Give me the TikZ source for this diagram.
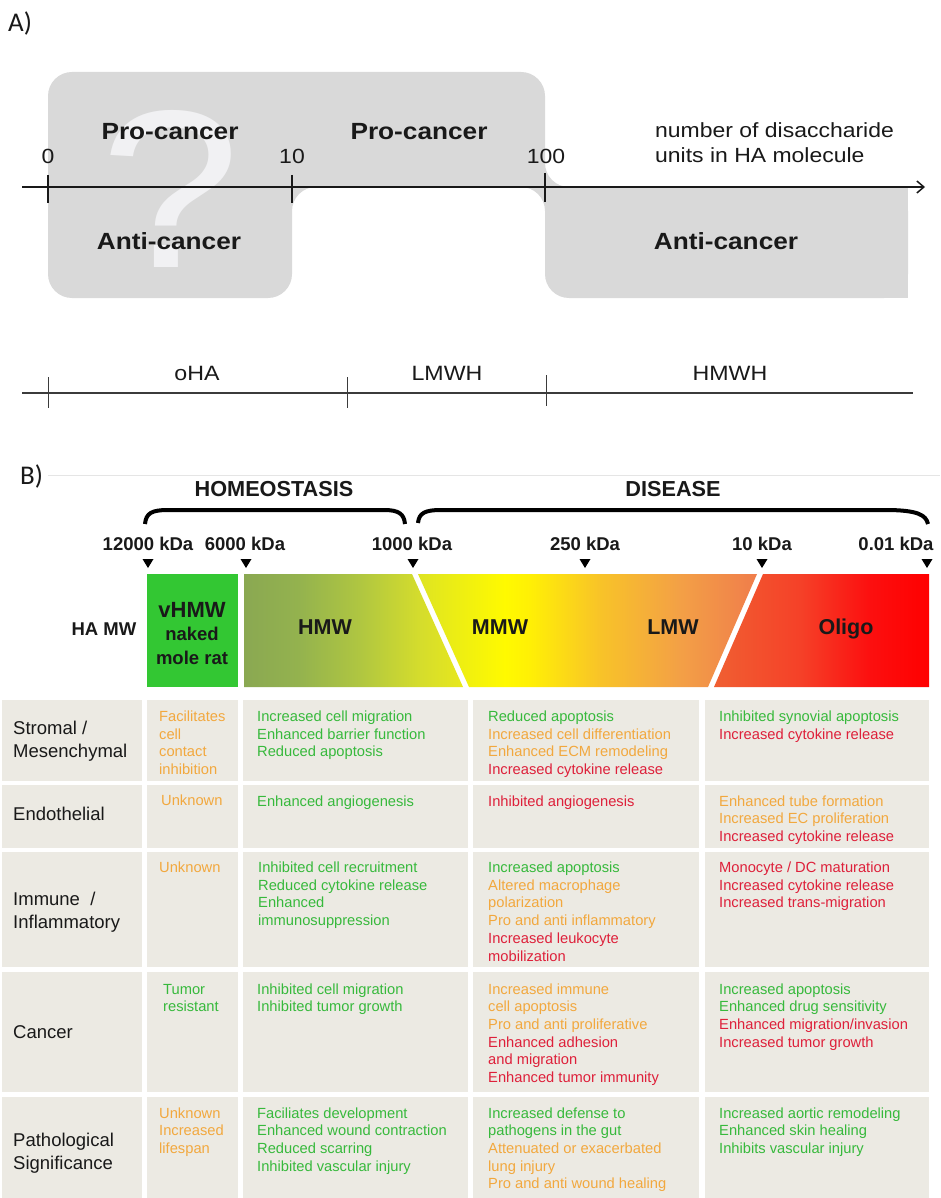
\documentclass[tikz,border=0pt]{standalone}
\usepackage{fontspec}
\setmainfont{Liberation Sans}
\newfontfamily\Afont[FakeStretch=1.12]{Liberation Sans}
\newfontfamily\labfont{Carlito}
\usetikzlibrary{arrows.meta}
\definecolor{shapegray}{RGB}{217,217,217}
\definecolor{qmark}{RGB}{241,241,243}
\definecolor{cellbg}{RGB}{236,234,227}
\definecolor{tg}{RGB}{55,185,60}
\definecolor{tor}{RGB}{242,168,62}
\definecolor{trd}{RGB}{222,32,58}
\definecolor{vgreen}{RGB}{51,199,51}
\definecolor{txt}{RGB}{25,25,25}
\pgfdeclarehorizontalshading{hmwshade}{100bp}{rgb(0bp)=(.541,.659,.322); rgb(25bp)=(.541,.659,.322); rgb(37.7bp)=(.58,.70,.306); rgb(51.2bp)=(.686,.776,.255); rgb(64.8bp)=(.831,.863,.176); rgb(75bp)=(.91,.91,.11); rgb(100bp)=(.91,.91,.11)}
\pgfdeclarehorizontalshading{mmwshade}{100bp}{rgb(0bp)=(.87,.894,.137); rgb(25bp)=(.87,.894,.137); rgb(37.83bp)=(1,.98,0); rgb(41.52bp)=(1,.94,.02); rgb(51.84bp)=(.973,.765,.157); rgb(63.64bp)=(.953,.627,.275); rgb(75bp)=(.941,.49,.294); rgb(100bp)=(.941,.49,.294)}
\pgfdeclarehorizontalshading{olishade}{100bp}{rgb(0bp)=(.941,.373,.196); rgb(25bp)=(.941,.373,.196); rgb(45bp)=(.961,.255,.157); rgb(61.28bp)=(.988,.059,.059); rgb(75bp)=(1,0,0); rgb(100bp)=(1,0,0)}
\newcommand{\tl}[1]{\begin{tabular}[t]{@{}l@{}}#1\end{tabular}}
\newcommand{\cG}[1]{\textcolor{tg}{#1}}
\newcommand{\cO}[1]{\textcolor{tor}{#1}}
\newcommand{\cR}[1]{\textcolor{trd}{#1}}
\begin{document}
\begin{tikzpicture}[x=1pt,y=1pt,
  atxt/.style={anchor=base, inner sep=0pt, text=txt, font=\Afont\fontsize{20.5}{25}\selectfont},
  abold/.style={anchor=base, inner sep=0pt, text=txt, font=\Afont\bfseries\fontsize{23.4}{26}\selectfont},
  kda/.style={anchor=base, inner sep=0pt, text=txt, font=\bfseries\fontsize{18.5}{20}\selectfont},
  head/.style={anchor=base, inner sep=0pt, text=txt, font=\bfseries\fontsize{21.7}{24}\selectfont},
  barlab/.style={anchor=base, inner sep=0pt, text=txt, font=\bfseries\fontsize{21.5}{24}\selectfont},
  rowlab/.style={anchor=base west, inner sep=0pt, text=txt, font=\fontsize{18.5}{23.2}\selectfont},
  cell/.style={anchor=base west, inner sep=0pt, font=\fontsize{14.7}{17.7}\selectfont},
  cellbox/.style={fill=cellbg},
  tick/.style={line width=1.3pt, txt}]
\useasboundingbox (0,0) rectangle (940,-1198);
\fill[white] (0,0) rectangle (940,-1198);

% ---------------- Part A ----------------
\node[anchor=base west, inner sep=0pt, text=txt, font=\labfont\fontsize{27}{27}\selectfont] (labA) at (8,-32) {A)};

\fill[shapegray, rounded corners=24pt] (48,-72) -- (545,-72) -- (545,-187) -- (908,-187) -- (908,-298) -- (545,-298) -- (545,-187) -- (292,-187) -- (292,-298) -- (48,-298) -- cycle;
\fill[shapegray] (870,-187) rectangle (908,-298);

\node[anchor=base, inner sep=0pt, text=qmark, font=\Afont\fontsize{225}{225}\selectfont] (qm) at (171,-267) {?};

\coordinate (axL) at (22,-187);
\coordinate (axR) at (925,-187);
\draw[line width=1.5pt, txt, -{Straight Barb[length=7pt,width=12pt]}] (axL) -- (axR);
\coordinate (t0a) at (48,-175);  \coordinate (t0b) at (48,-203);
\coordinate (t1a) at (292,-175); \coordinate (t1b) at (292,-203);
\coordinate (t2a) at (545,-173); \coordinate (t2b) at (545,-202);
\draw[tick] (t0a) -- (t0b);
\draw[tick] (t1a) -- (t1b);
\draw[tick] (t2a) -- (t2b);

\node[atxt] (n0) at (48,-164) {0};
\node[atxt] (n10) at (292,-164) {10};
\node[atxt] (n100) at (546,-164) {100};
\node[atxt, anchor=base west] (units) at (655,-138) {\tl{number of disaccharide\\units in HA molecule}};

\node[abold] (pro1) at (170,-140) {Pro-cancer};
\node[abold] (pro2) at (419,-140) {Pro-cancer};
\node[abold] (anti1) at (169,-250) {Anti-cancer};
\node[abold] (anti2) at (726,-250) {Anti-cancer};

\coordinate (sL) at (22,-393);
\coordinate (sR) at (913,-393);
\draw[line width=1.2pt, txt!85] (sL) -- (sR);
\coordinate (s0a) at (48,-377);  \coordinate (s0b) at (48,-408);
\coordinate (s1a) at (347,-377); \coordinate (s1b) at (347,-408);
\coordinate (s2a) at (546,-375); \coordinate (s2b) at (546,-406);
\draw[line width=1pt, txt!85] (s0a) -- (s0b);
\draw[line width=1pt, txt!85] (s1a) -- (s1b);
\draw[line width=1pt, txt!85] (s2a) -- (s2b);
\node[atxt, font=\Afont\fontsize{20.7}{24}\selectfont] (oha) at (197,-380) {oHA};
\node[atxt, font=\Afont\fontsize{20.7}{24}\selectfont] (lmwh) at (447,-380) {LMWH};
\node[atxt, font=\Afont\fontsize{20.7}{24}\selectfont] (hmwh) at (730,-380) {HMWH};

% ---------------- Part B ----------------
\draw[black!10, line width=0.8pt] (48,-475) -- (940,-475);
\node[anchor=base west, inner sep=0pt, text=txt, font=\labfont\fontsize{27}{27}\selectfont] (labB) at (20,-484) {B)};

\node[head] (homeo) at (274,-496) {HOMEOSTASIS};
\node[head] (disease) at (673,-496) {DISEASE};

\draw[line width=4pt, black] (145,-524) .. controls (146,-513) and (152,-510) .. (168,-510) -- (384,-510) .. controls (399,-510) and (404,-514) .. (405,-524);
\draw[line width=4pt, black] (418,-523) .. controls (419,-513) and (425,-510) .. (441,-510) -- (885,-510) .. controls (918,-510) and (926,-515) .. (928,-524);

\node[kda] (k1) at (148,-550) {12000 kDa};
\node[kda] (k2) at (245,-550) {6000 kDa};
\node[kda] (k3) at (412,-550) {1000 kDa};
\node[kda] (k4) at (585,-550) {250 kDa};
\node[kda] (k5) at (762,-550) {10 kDa};
\node[kda] (k6) at (896,-550) {0.01 kDa};
\foreach \x in {148,246,413,585,762,927}
  \fill[black] (\x-5.5,-559) -- (\x+5.5,-559) -- (\x,-568) -- cycle;

\fill[vgreen] (147,-574) rectangle (238,-687);
\shade[shading=hmwshade] (244,-574) -- (412,-574) -- (463,-687) -- (244,-687) -- cycle;
\shade[shading=mmwshade] (418,-574) -- (757,-574) -- (708,-687) -- (469,-687) -- cycle;
\shade[shading=olishade] (763,-574) -- (929,-574) -- (929,-687) -- (714,-687) -- cycle;

\node[anchor=base, inner sep=0pt, text=txt, font=\bfseries\fontsize{18.5}{20}\selectfont] (hamw) at (104,-635.5) {HA MW};
\node[anchor=base, inner sep=0pt, text=txt, font=\bfseries\fontsize{18.5}{23.5}\selectfont] (vhmw) at (192,-617) {\begin{tabular}[t]{@{}c@{}}{\fontsize{22}{23.5}\selectfont vHMW}\\naked\\mole rat\end{tabular}};
\node[barlab] (hmw) at (325,-634) {HMW};
\node[barlab] (mmw) at (500,-634) {MMW};
\node[barlab] (lmw) at (673,-634) {LMW};
\node[barlab] (oligo) at (846,-634) {Oligo};

% table cells
\foreach \ya/\yb in {700/781, 785/848, 852/967, 972/1092, 1097/1198}{
  \foreach \xa/\xb in {2/142, 147/238, 243/468, 473/699, 705/929}{
    \fill[cellbox] (\xa,-\ya) rectangle (\xb,-\yb);
  }
}

% row labels
\node[rowlab] (r1) at (13,-734.5) {\tl{Stromal /\\Mesenchymal}};
\node[rowlab] (r2) at (13,-820.5) {Endothelial};
\node[rowlab] (r3) at (13,-905.5) {\tl{Immune \ /\\Inflammatory}};
\node[rowlab] (r4) at (13,-1038.5) {Cancer};
\node[rowlab] (r5) at (13,-1146.5) {\tl{Pathological\\Significance}};

% row 1
\node[cell] (c11) at (159,-721.5) {\tl{\cO{Facilitates}\\\cO{cell}\\\cO{contact}\\\cO{inhibition}}};
\node[cell] (c12) at (257,-721.5) {\tl{\cG{Increased cell migration}\\\cG{Enhanced barrier function}\\\cG{Reduced apoptosis}}};
\node[cell] (c13) at (488,-721.5) {\tl{\cG{Reduced apoptosis}\\\cO{Increased cell differentiation}\\\cO{Enhanced ECM remodeling}\\\cR{Increased cytokine release}}};
\node[cell] (c14) at (719,-721.5) {\tl{\cG{Inhibited synovial apoptosis}\\\cR{Increased cytokine release}}};
% row 2
\node[cell] (c21) at (161,-805) {\tl{\cO{Unknown}}};
\node[cell] (c22) at (257,-806) {\tl{\cG{Enhanced angiogenesis}}};
\node[cell] (c23) at (488,-806) {\tl{\cR{Inhibited angiogenesis}}};
\node[cell] (c24) at (719,-806) {\tl{\cO{Enhanced tube formation}\\\cO{Increased EC proliferation}\\\cR{Increased cytokine release}}};
% row 3
\node[cell] (c31) at (159,-872) {\tl{\cO{Unknown}}};
\node[cell] (c32) at (258,-872.5) {\tl{\cG{Inhibited cell recruitment}\\\cG{Reduced cytokine release}\\\cG{Enhanced}\\\cG{immunosuppression}}};
\node[cell] (c33) at (488,-872.5) {\tl{\cG{Increased apoptosis}\\\cO{Altered macrophage}\\\cO{polarization}\\\cO{Pro and anti inflammatory}\\\cR{Increased leukocyte}\\\cR{mobilization}}};
\node[cell] (c34) at (719,-872.5) {\tl{\cR{Monocyte / DC maturation}\\\cR{Increased cytokine release}\\\cR{Increased trans-migration}}};
% row 4
\node[cell] (c41) at (163,-994) {\tl{\cG{Tumor}\\\cG{resistant}}};
\node[cell] (c42) at (257,-994) {\tl{\cG{Inhibited cell migration}\\\cG{Inhibited tumor growth}}};
\node[cell] (c43) at (488,-994) {\tl{\cO{Increased immune}\\\cO{cell apoptosis}\\\cO{Pro and anti proliferative}\\\cR{Enhanced adhesion}\\\cR{and migration}\\\cR{Enhanced tumor immunity}}};
\node[cell] (c44) at (719,-994) {\tl{\cG{Increased apoptosis}\\\cG{Enhanced drug sensitivity}\\\cR{Enhanced migration/invasion}\\\cR{Increased tumor growth}}};
% row 5
\node[cell] (c51) at (159,-1118) {\tl{\cO{Unknown}\\\cO{Increased}\\\cO{lifespan}}};
\node[cell] (c52) at (257,-1118) {\tl{\cG{Faciliates development}\\\cG{Enhanced wound contraction}\\\cG{Reduced scarring}\\\cG{Inhibited vascular injury}}};
\node[cell] (c53) at (488,-1118) {\tl{\cG{Increased defense to}\\\cG{pathogens in the gut}\\\cO{Attenuated or exacerbated}\\\cO{lung injury}\\\cO{Pro and anti wound healing}}};
\node[cell] (c54) at (719,-1118) {\tl{\cG{Increased aortic remodeling}\\\cG{Enhanced skin healing}\\\cG{Inhibits vascular injury}}};
\end{tikzpicture}
\end{document}
